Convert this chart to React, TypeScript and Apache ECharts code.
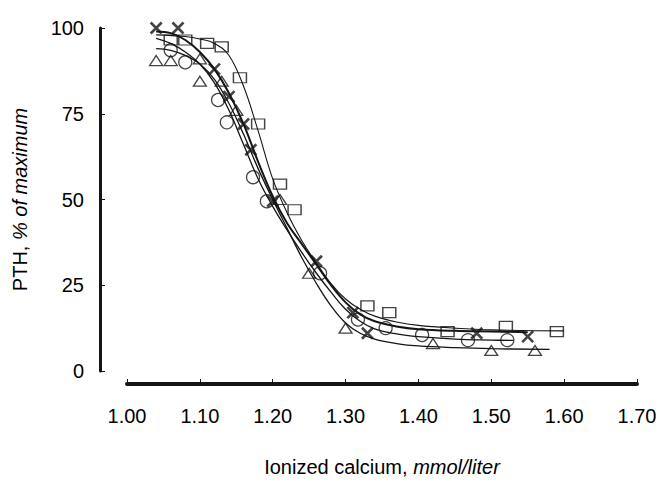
import React, { useEffect, useRef } from "react";
import * as echarts from "echarts";

// Scatter data
const crossX = [1.04, 1.07, 1.12, 1.14, 1.16, 1.17, 1.2, 1.26, 1.31, 1.33, 1.48, 1.55];
const crossY = [100, 100, 88, 80, 72, 64.5, 49.5, 32, 17, 11, 11, 10];

const squareX = [1.06, 1.08, 1.11, 1.13, 1.155, 1.18, 1.21, 1.23, 1.33, 1.36, 1.44, 1.52, 1.59];
const squareY = [96.5, 96.5, 95.5, 94.5, 85.5, 72, 54.5, 47, 19, 17, 11.5, 13, 11.5];

const circleX = [1.06, 1.08, 1.125, 1.137, 1.173, 1.192, 1.265, 1.317, 1.355, 1.405, 1.468, 1.522];
const circleY = [93.5, 90, 79, 72.5, 56.5, 49.5, 28.5, 15, 12.5, 10.5, 9, 9];

const triangleX = [1.04, 1.06, 1.1, 1.1, 1.13, 1.15, 1.21, 1.25, 1.3, 1.42, 1.5, 1.56];
const triangleY = [90.5, 90.5, 91, 84.5, 84.5, 76, 50, 28.5, 12.5, 8, 6, 6];

// Fitted curves
const crossCurveX = [1.04, 1.06, 1.08, 1.1, 1.12, 1.14, 1.16, 1.18, 1.2, 1.22, 1.24, 1.26, 1.28, 1.3, 1.32, 1.34, 1.37, 1.4, 1.45, 1.5, 1.55];
const crossCurveY = [99, 98.5, 96.5, 93, 88, 81, 72, 61, 51, 43, 37, 31, 25, 20, 16.5, 14.5, 13, 12.2, 11.7, 11.5, 11.3];

const circleCurveX = [1.04, 1.06, 1.08, 1.1, 1.12, 1.14, 1.16, 1.18, 1.2, 1.22, 1.24, 1.26, 1.28, 1.3, 1.32, 1.34, 1.37, 1.4, 1.45, 1.5, 1.53];
const circleCurveY = [97, 95.5, 93, 89.5, 84, 76, 66, 56, 48, 41, 34.5, 28.5, 23, 18, 14.5, 12.3, 10.8, 10, 9.3, 9, 8.9];

const triangleCurveX = [1.04, 1.06, 1.08, 1.1, 1.12, 1.14, 1.16, 1.18, 1.2, 1.22, 1.24, 1.26, 1.28, 1.3, 1.32, 1.34, 1.37, 1.4, 1.45, 1.5, 1.58];
const triangleCurveY = [94, 93.5, 92, 89.5, 85, 78, 69, 59, 50, 41.5, 33, 25.5, 19, 14, 11, 9.3, 8, 7.3, 6.8, 6.5, 6.3];

const squareCurveX = [1.04, 1.08, 1.1, 1.12, 1.14, 1.16, 1.18, 1.2, 1.22, 1.24, 1.26, 1.28, 1.3, 1.32, 1.34, 1.37, 1.4, 1.45, 1.5, 1.6];
const squareCurveY = [98, 97.5, 96.8, 95.5, 92, 83, 70, 56, 46, 38, 31.5, 25.5, 21, 18, 16, 14.3, 13.3, 12.5, 12, 11.7];

const xTickLabels = ["1.00", "1.10", "1.20", "1.30", "1.40", "1.50", "1.60", "1.70"];
const yTickLabels = ["0", "25", "50", "75", "100"];

const zip = (xs: number[], ys: number[]) => xs.map((x, i) => [x, ys[i]]);

const FONT = "'Liberation Sans', Arial, sans-serif";
const INK = "#151515";
const TEXT = "#000000";

export default function App() {
  const ref = useRef<HTMLDivElement>(null);
  useEffect(() => {
    if (!ref.current) return;
    const chart = echarts.init(ref.current, null, { renderer: "svg" });
    const curve = (xs: number[], ys: number[], w: number) => ({
      type: "line",
      data: zip(xs, ys),
      smooth: 0.4,
      showSymbol: false,
      symbol: "none",
      lineStyle: { color: INK, width: w },
      z: 2,
    });
    const scatter = (xs: number[], ys: number[], symbol: string, size: any, bw: number) => ({
      type: "scatter",
      data: zip(xs, ys),
      symbol,
      symbolSize: size,
      itemStyle: { color: "none", borderColor: INK, borderWidth: bw },
      z: 3,
    });
    chart.setOption({
      animation: false,
      backgroundColor: "#ffffff",
      grid: { left: 127, right: 30, top: 28, bottom: 106 },
      xAxis: {
        type: "value",
        min: 1.0,
        max: 1.7,
        interval: 0.1,
        offset: 13,
        axisLine: { onZero: false, lineStyle: { color: INK, width: 4 } },
        axisTick: { inside: true, length: 5, lineStyle: { color: INK, width: 1 } },
        splitLine: { show: false },
        axisLabel: {
          margin: 22,
          color: TEXT,
          fontSize: 20,
          fontFamily: FONT,
          formatter: (v: number) => xTickLabels[Math.round((v - 1.0) / 0.1)] ?? "",
        },
        name: "Ionized calcium, {i|mmol/liter}",
        nameLocation: "middle",
        nameGap: 73,
        nameTextStyle: {
          color: TEXT,
          fontSize: 20,
          fontFamily: FONT,
          rich: { i: { fontStyle: "italic", fontSize: 20, fontFamily: FONT, color: TEXT } },
        },
      },
      yAxis: {
        type: "value",
        min: 0,
        max: 100,
        interval: 25,
        offset: 27,
        axisLine: { show: true, lineStyle: { color: INK, width: 3 } },
        axisTick: { show: true, inside: true, length: 5, lineStyle: { color: INK, width: 1 } },
        splitLine: { show: false },
        axisLabel: {
          margin: 16,
          color: TEXT,
          fontSize: 20,
          fontFamily: FONT,
          formatter: (v: number) => yTickLabels[Math.round(v / 25)] ?? "",
        },
        name: "PTH, {i|% of maximum}",
        nameLocation: "middle",
        nameGap: 70,
        nameTextStyle: {
          color: TEXT,
          fontSize: 20,
          fontFamily: FONT,
          rich: { i: { fontStyle: "italic", fontSize: 20, fontFamily: FONT, color: TEXT } },
        },
      },
      series: [
        curve(squareCurveX, squareCurveY, 1.1),
        curve(circleCurveX, circleCurveY, 1.3),
        curve(triangleCurveX, triangleCurveY, 1.3),
        curve(crossCurveX, crossCurveY, 2),
        scatter(squareX, squareY, "rect", [13, 10], 1.3),
        scatter(circleX, circleY, "circle", 13, 1.3),
        scatter(triangleX, triangleY, "triangle", [13, 10], 1.3),
        scatter(crossX, crossY, "path://M0,0L10,10M10,0L0,10", 11, 2.6),
      ],
    });
    return () => chart.dispose();
  }, []);
  return (
    <div
      ref={ref}
      style={{ position: "fixed", left: 0, top: 0, width: 667, height: 482, background: "#fff" }}
    />
  );
}
